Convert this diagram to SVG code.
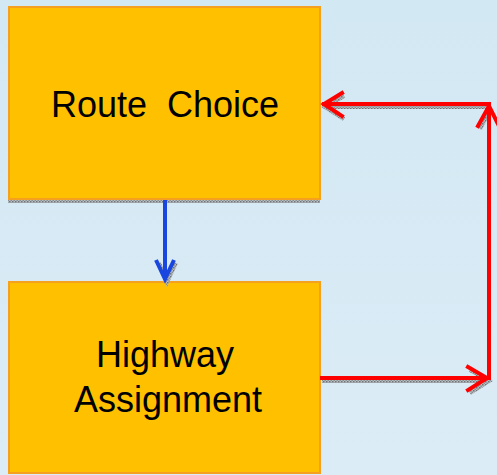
<svg xmlns="http://www.w3.org/2000/svg" width="497" height="475" viewBox="0 0 497 475">
  <defs>
    <linearGradient id="bg" x1="0" y1="0" x2="0" y2="1">
      <stop offset="0" stop-color="#d2e8f3"/>
      <stop offset="1" stop-color="#dcecf6"/>
    </linearGradient>
    <!-- fine grey checker used for the drop shadows -->
    <pattern id="hatch" width="3" height="3" patternUnits="userSpaceOnUse">
      <rect width="3" height="3" fill="#b9bec2"/>
      <rect width="1.5" height="1.5" fill="#6f7478"/>
      <rect x="1.5" y="1.5" width="1.5" height="1.5" fill="#8a8f93"/>
    </pattern>
  </defs>
  <style>
    .box { fill: #ffc000; stroke: #f5a01e; stroke-width: 2; }
    .label { font-family: "Liberation Sans", Arial, sans-serif; font-size: 36px; fill: #000; text-anchor: middle; white-space: pre; }
    .red { fill: none; stroke: #ff0000; stroke-width: 4; stroke-linecap: square; stroke-linejoin: miter; }
    .blue { fill: none; stroke: #1a46e0; stroke-width: 4; stroke-linejoin: miter; }
    .shadow { fill: none; stroke: url(#hatch); stroke-width: 4; }
  </style>

  <rect width="497" height="475" fill="url(#bg)"/>

  <g id="route-choice">
    <rect x="8" y="199" width="312" height="4" fill="url(#hatch)"/>
    <rect class="box" x="9" y="7" width="311" height="192"/>
    <text class="label" x="165" y="117" xml:space="preserve">Route  Choice</text>
  </g>

  <g id="highway-assignment">
    <rect class="box" x="9" y="282" width="311" height="191"/>
    <text class="label" x="165" y="367">Highway</text>
    <text class="label" x="168" y="412">Assignment</text>
  </g>

  <g id="connectors">
    <!-- shadows -->
    <g class="shadow" transform="translate(2,3)">
      <path d="M322,104 H489"/>
      <path d="M342,93 L323,104 L342,116"/>
      <path d="M320,378 H487"/>
      <path d="M468,367 L487,378 L468,390"/>
      <path d="M478,126 L489,105"/>
      <path d="M157,260 L165,279 L174,260"/>
    </g>
    <!-- feedback loop -->
    <path class="red" d="M322,378 H489 V104 H324"/>
    <path class="red" d="M342,93 L324,104 L342,116"/>
    <path class="red" d="M478,126 L489,106 L499,126"/>
    <path class="red" d="M468,367 L487,378 L468,390"/>
    <!-- route choice to assignment -->
    <path class="blue" d="M165,200 V279"/>
    <path class="blue" d="M156,260 L165,279 L174,260"/>
  </g>
</svg>
